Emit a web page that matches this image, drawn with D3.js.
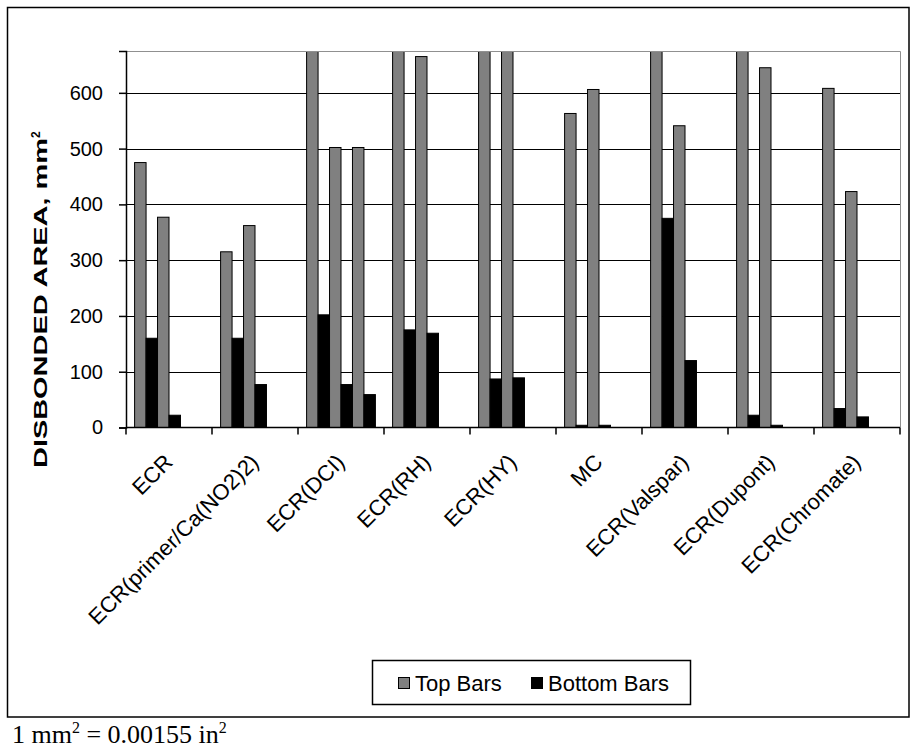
<!DOCTYPE html>
<html>
<head>
<meta charset="utf-8">
<script src="https://cdn.jsdelivr.net/npm/d3@7"></script>
<style>
  html, body { margin: 0; padding: 0; background: #fff; }
  svg { display: block; }
</style>
</head>
<body>
<svg id="chart" width="915" height="756"></svg>
<script>
// ---- data ----
const categories = ["ECR", "ECR(primer/Ca(NO2)2)", "ECR(DCI)", "ECR(RH)", "ECR(HY)", "MC",
                    "ECR(Valspar)", "ECR(Dupont)", "ECR(Chromate)"];
const topBars1    = [475, 315, 700, 700, 700, 563, 700, 700, 608];
const bottomBars1 = [160, 160, 202, 175, 87, 4, 375, 22, 34];
const topBars2    = [377, 362, 502, 665, 700, 606, 541, 645, 423];
const bottomBars2 = [22, 77, 77, 169, 89, 4, 120, 4, 19];
const topBars3    = [0, 0, 502, 0, 0, 0, 0, 0, 0];
const bottomBars3 = [0, 0, 59, 0, 0, 0, 0, 0, 0];
const yTicks = [0, 100, 200, 300, 400, 500, 600];
const legendLabels = ["Top Bars", "Bottom Bars"];

const seriesList = [
  { values: topBars1, kind: 0 },
  { values: bottomBars1, kind: 1 },
  { values: topBars2, kind: 0 },
  { values: bottomBars2, kind: 1 },
  { values: topBars3, kind: 0 },
  { values: bottomBars3, kind: 1 }
];
const fills = ["#808080", "#000000"];
const SANS = "Arial, 'Liberation Sans', sans-serif";
const SERIF = "'Times New Roman', 'Liberation Serif', serif";

// ---- layout ----
const svg = d3.select("#chart");
const plot = { left: 126, right: 900, top: 51, bottom: 427.5 };

// outer chart border
svg.append("rect")
  .attr("x", 7.5).attr("y", 7.5).attr("width", 901.5).attr("height", 709.5)
  .attr("fill", "none").attr("stroke", "#000").attr("stroke-width", 1.5);

const x = d3.scaleBand().domain(categories).range([plot.left, plot.right]).padding(0);
const xs = d3.scaleBand().domain(d3.range(seriesList.length))
  .range([0, x.bandwidth()]).paddingInner(0).paddingOuter(0.75);
const y = d3.scaleLinear().domain([0, 675]).range([plot.bottom, plot.top]);

// gridlines
svg.append("g").selectAll("line").data(yTicks.filter(d => d > 0)).join("line")
  .attr("x1", plot.left).attr("x2", plot.right)
  .attr("y1", d => Math.round(y(d)) + 0.5).attr("y2", d => Math.round(y(d)) + 0.5)
  .attr("stroke", "#000").attr("stroke-width", 1);

// plot border top/right (gray)
svg.append("path")
  .attr("d", `M${plot.left},${plot.top + 0.5}H${plot.right + 0.5}V${plot.bottom}`)
  .attr("fill", "none").attr("stroke", "#909090").attr("stroke-width", 1);

// clip
svg.append("clipPath").attr("id", "clip").append("rect")
  .attr("x", plot.left).attr("y", plot.top + 1).attr("width", plot.right - plot.left)
  .attr("height", plot.bottom - plot.top + 5);

// bars
const barsG = svg.append("g").attr("clip-path", "url(#clip)");
seriesList.forEach((s, si) => {
  barsG.append("g").selectAll("rect").data(s.values).join("rect")
    .attr("x", (d, i) => x(categories[i]) + xs(si))
    .attr("width", xs.bandwidth())
    .attr("y", d => y(d))
    .attr("height", d => y(0) - y(d))
    .attr("fill", fills[s.kind])
    .attr("stroke", "#000").attr("stroke-width", 1);
});

// y axis
const yAxis = d3.axisLeft(y).tickValues(yTicks).tickSize(7).tickPadding(16).tickFormat(d3.format("d"));
const yg = svg.append("g").attr("transform", `translate(${plot.left},0)`).call(yAxis);
yg.select(".domain").attr("stroke", "#000").attr("stroke-width", 1.5);
yg.selectAll(".tick line").attr("stroke", "#000").attr("stroke-width", 1.5);
yg.selectAll(".tick text").attr("font-size", 20).attr("fill", "#000")
  .attr("font-family", SANS);

// x axis (ticks between categories)
const xTickPos = categories.map(c => x(c)).concat([plot.right]);
svg.append("line").attr("x1", plot.left).attr("x2", plot.right)
  .attr("y1", plot.bottom).attr("y2", plot.bottom)
  .attr("stroke", "#000").attr("stroke-width", 1.5);
svg.append("g").selectAll("line").data(xTickPos).join("line")
  .attr("x1", d => d).attr("x2", d => d)
  .attr("y1", plot.bottom).attr("y2", plot.bottom + 7)
  .attr("stroke", "#000").attr("stroke-width", 1.5);

// category labels
svg.append("g").selectAll("text").data(categories).join("text")
  .attr("transform", c => `translate(${x(c) + x.bandwidth() / 2 + 5},${plot.bottom + 36}) rotate(-45)`)
  .attr("text-anchor", "end")
  .attr("font-family", SANS)
  .attr("font-size", 22)
  .attr("fill", "#000")
  .text(c => c);

// y axis title
const yt = svg.append("text")
  .attr("transform", `translate(47,${468}) rotate(-90)`)
  .attr("text-anchor", "start")
  .attr("font-family", SANS)
  .attr("font-size", 18).attr("font-weight", "bold").attr("fill", "#000");
yt.append("tspan").attr("textLength", 330).attr("lengthAdjust", "spacingAndGlyphs")
  .text("DISBONDED AREA, mm");
yt.append("tspan").attr("font-size", 12).attr("dy", -7).text("2");

// legend
const lg = svg.append("g");
lg.append("rect").attr("x", 372.5).attr("y", 660.5).attr("width", 318).attr("height", 44)
  .attr("fill", "#fff").attr("stroke", "#000").attr("stroke-width", 1.5);
const legX = [398, 531];
legendLabels.forEach((lab, i) => {
  lg.append("rect").attr("x", legX[i] + 0.5).attr("y", 677.5).attr("width", 11).attr("height", 11)
    .attr("fill", fills[i]).attr("stroke", "#000").attr("stroke-width", 1);
  lg.append("text").attr("x", legX[i] + 17).attr("y", 691)
    .attr("font-family", SANS)
    .attr("font-size", 22).attr("fill", "#000").text(lab);
});

// footnote
const fn = svg.append("text").attr("x", 12).attr("y", 743)
  .attr("font-family", SERIF)
  .attr("font-size", 26).attr("fill", "#000");
fn.append("tspan").text("1 mm");
fn.append("tspan").attr("font-size", 16).attr("dy", -10).text("2");
fn.append("tspan").attr("dy", 10).text(" = 0.00155 in");
fn.append("tspan").attr("font-size", 16).attr("dy", -10).text("2");
</script>
</body>
</html>
